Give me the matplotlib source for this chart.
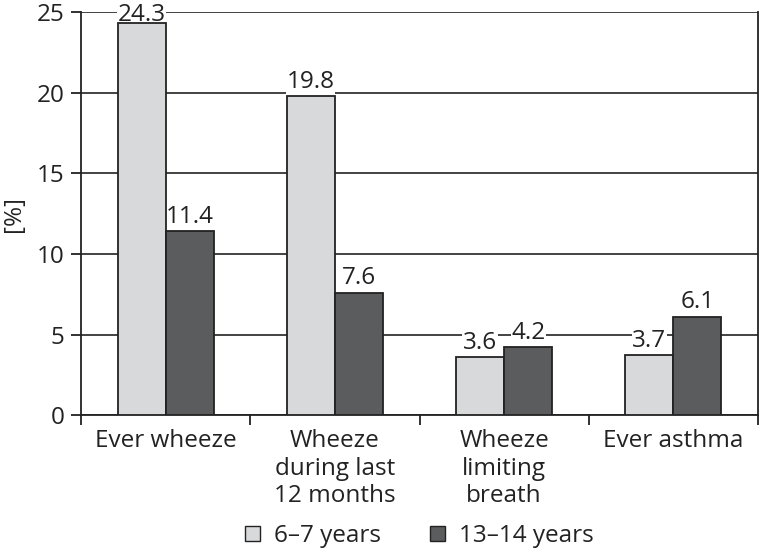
import matplotlib
matplotlib.use('Agg')
import matplotlib.pyplot as plt
import numpy as np
from matplotlib.patches import Patch

plt.rcParams['font.family'] = ['Open Sans', 'DejaVu Sans']

categories = ['Ever wheeze', 'Wheeze\nduring last\n12 months', 'Wheeze\nlimiting\nbreath', 'Ever asthma']
series_names = ['6\u20137 years', '13\u201314 years']
young = [24.3, 19.8, 3.6, 3.7]
teen = [11.4, 7.6, 4.2, 6.1]
colors = ['#d8d9da', '#5b5c5e']
ink = '#222222'

fig = plt.figure(figsize=(7.6, 5.52), dpi=100)
ax = fig.add_axes([0.107, 0.248, 0.89, 0.730])

x = np.arange(len(categories))
w = 0.285
fs = 17.5
for vals, off, col in [(young, -w / 2, colors[0]), (teen, w / 2, colors[1])]:
    bars = ax.bar(x + off, vals, w, color=col, edgecolor=ink, linewidth=1.3, zorder=3)
    for b, v in zip(bars, vals):
        xc = b.get_x() + b.get_width() / 2
        dy = 1.5 if v > 23 else 6   # little headroom under the top edge
        # labels sit under the bars (zorder) so their white box only hides gridlines
        ax.annotate(f'{v:.1f}', (xc, v), xytext=(0, dy), textcoords='offset points',
                    ha='center', va='baseline', fontsize=fs, color=ink, zorder=2.5,
                    bbox=dict(facecolor='white', edgecolor='none', pad=0.3))

ax.set_xlim(-0.5, len(categories) - 0.5)
ax.set_ylim(0, 25)
ax.set_yticks(range(0, 26, 5))
ax.yaxis.grid(True, color=ink, linewidth=1.2, zorder=0)
ax.set_axisbelow(True)

# boundaries as major ticks, names as minor ticks
ax.set_xticks(np.arange(-0.5, len(categories), 1.0))
ax.set_xticklabels([])
ax.set_xticks(x, minor=True)
ax.set_xticklabels(categories, minor=True, fontsize=fs, color=ink, linespacing=1.2)
ax.tick_params(axis='x', which='minor', length=0, pad=10)
ax.tick_params(axis='x', which='major', length=7, width=1.3, color=ink)
ax.tick_params(axis='y', length=7, width=1.3, color=ink, labelsize=fs,
               labelcolor=ink, pad=5)

for s in ['left', 'right', 'bottom']:
    ax.spines[s].set_color(ink)
    ax.spines[s].set_linewidth(1.3)
ax.spines['top'].set_visible(False)

ax.set_ylabel('[%]', fontsize=fs, color=ink, labelpad=8)

handles = [Patch(facecolor=c, edgecolor=ink, linewidth=1.0) for c in colors]
fig.legend(handles, series_names, loc='lower center', bbox_to_anchor=(0.552, -0.032), ncol=2,
           frameon=False, fontsize=fs, handlelength=0.6, handleheight=0.6,
           handletextpad=0.6, columnspacing=2.0, labelcolor=ink)

fig.savefig('out.png', dpi=100)
